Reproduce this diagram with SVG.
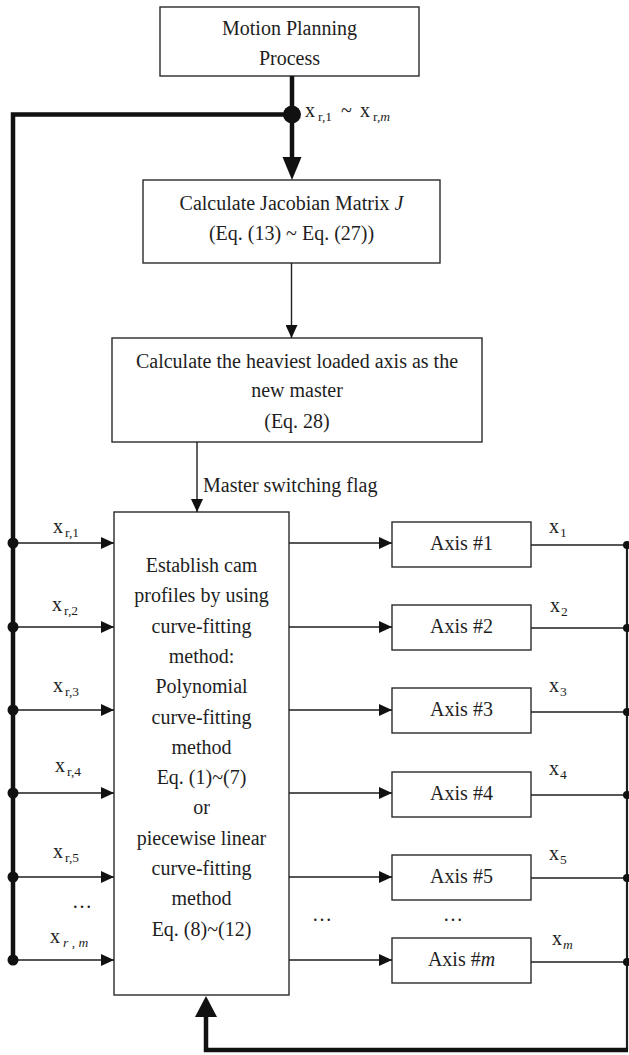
<svg xmlns="http://www.w3.org/2000/svg" width="629" height="1055" viewBox="0 0 629 1055">
<style>
.box{fill:#fff;stroke:#2a2a2a;stroke-width:1.4}
.t{font-family:"Liberation Serif","Times New Roman",serif;font-size:20px;fill:#1e1e1e}
.c{text-anchor:middle}
.s{font-size:13.5px}
.thin{fill:none;stroke:#1e1e1e;stroke-width:1.4}
.thick{fill:none;stroke:#111;stroke-width:4.5}
.mid{fill:none;stroke:#1e1e1e;stroke-width:2.2}
</style>
<defs>
<marker id="ah" markerUnits="userSpaceOnUse" markerWidth="13" markerHeight="12" refX="13" refY="6" orient="auto">
<path d="M0,0 L13,6 L0,12 z" fill="#111"/>
</marker>
</defs>
<g id="n1"><rect class="box" x="160" y="7" width="259" height="69"/>
<text class="t c" x="289.5" y="35">Motion Planning</text>
<text class="t c" x="289.5" y="65">Process</text></g>
<g id="n2"><rect class="box" x="143" y="180" width="297" height="83"/>
<text class="t c" x="291.5" y="210">Calculate Jacobian Matrix <tspan font-style="italic">J</tspan></text>
<text class="t c" x="291.5" y="240">(Eq. (13) ~ Eq. (27))</text></g>
<g id="n3"><rect class="box" x="112" y="338" width="370" height="104"/>
<text class="t c" x="297" y="368">Calculate the heaviest loaded axis as the</text>
<text class="t c" x="297" y="397">new master</text>
<text class="t c" x="297" y="428">(Eq. 28)</text></g>
<g id="n4"><rect class="box" x="114" y="512" width="175" height="483"/>
<text class="t c" x="201.5" y="572">Establish cam</text>
<text class="t c" x="201.5" y="602.3">profiles by using</text>
<text class="t c" x="201.5" y="632.6">curve-fitting</text>
<text class="t c" x="201.5" y="662.9">method:</text>
<text class="t c" x="201.5" y="693.2">Polynomial</text>
<text class="t c" x="201.5" y="723.5">curve-fitting</text>
<text class="t c" x="201.5" y="753.8">method</text>
<text class="t c" x="201.5" y="784.1">Eq. (1)~(7)</text>
<text class="t c" x="201.5" y="814.4">or</text>
<text class="t c" x="201.5" y="844.7">piecewise linear</text>
<text class="t c" x="201.5" y="875">curve-fitting</text>
<text class="t c" x="201.5" y="905.3">method</text>
<text class="t c" x="201.5" y="935.6">Eq. (8)~(12)</text></g>
<g id="a1"><rect class="box" x="392" y="522" width="139" height="45"/><text class="t c" x="461.5" y="550">Axis #1</text></g>
<g id="a2"><rect class="box" x="392" y="605" width="139" height="45"/><text class="t c" x="461.5" y="633">Axis #2</text></g>
<g id="a3"><rect class="box" x="392" y="688" width="139" height="45"/><text class="t c" x="461.5" y="716">Axis #3</text></g>
<g id="a4"><rect class="box" x="392" y="772" width="139" height="45"/><text class="t c" x="461.5" y="800">Axis #4</text></g>
<g id="a5"><rect class="box" x="392" y="855" width="139" height="45"/><text class="t c" x="461.5" y="883">Axis #5</text></g>
<g id="am"><rect class="box" x="392" y="938" width="139" height="45"/><text class="t c" x="461.5" y="966">Axis #<tspan font-style="italic">m</tspan></text></g>
<g id="connectors">
<line class="thick" x1="292" y1="76" x2="292" y2="158"/>
<polygon points="282.5,157 301.5,157 292,180" fill="#111"/>
<polyline class="thick" points="292,114.5 13,114.5 13,960" stroke-linejoin="miter"/>
<circle cx="292" cy="114.5" r="9" fill="#111"/>
<line class="thin" x1="291.5" y1="263" x2="291.5" y2="338" marker-end="url(#ah)"/>
<line class="thin" x1="197" y1="442" x2="197" y2="512" marker-end="url(#ah)"/>
<g id="inputs">
<line class="thin" x1="13" y1="543" x2="114" y2="543" marker-end="url(#ah)"/>
<line class="thin" x1="13" y1="627" x2="114" y2="627" marker-end="url(#ah)"/>
<line class="thin" x1="13" y1="710" x2="114" y2="710" marker-end="url(#ah)"/>
<line class="thin" x1="13" y1="793" x2="114" y2="793" marker-end="url(#ah)"/>
<line class="thin" x1="13" y1="877" x2="114" y2="877" marker-end="url(#ah)"/>
<line class="thin" x1="13" y1="960" x2="114" y2="960" marker-end="url(#ah)"/>
<circle cx="13" cy="543" r="5.5" fill="#111"/>
<circle cx="13" cy="627" r="5.5" fill="#111"/>
<circle cx="13" cy="710" r="5.5" fill="#111"/>
<circle cx="13" cy="793" r="5.5" fill="#111"/>
<circle cx="13" cy="877" r="5.5" fill="#111"/>
<circle cx="13" cy="960" r="5.5" fill="#111"/>
</g>
<g id="axis-in">
<line class="thin" x1="289" y1="543" x2="392" y2="543" marker-end="url(#ah)"/>
<line class="thin" x1="289" y1="627" x2="392" y2="627" marker-end="url(#ah)"/>
<line class="thin" x1="289" y1="710" x2="392" y2="710" marker-end="url(#ah)"/>
<line class="thin" x1="289" y1="793" x2="392" y2="793" marker-end="url(#ah)"/>
<line class="thin" x1="289" y1="877" x2="392" y2="877" marker-end="url(#ah)"/>
<line class="thin" x1="289" y1="960" x2="392" y2="960" marker-end="url(#ah)"/>
</g>
<g id="axis-out">
<line class="thin" x1="531" y1="545" x2="627" y2="545"/>
<line class="thin" x1="531" y1="628" x2="627" y2="628"/>
<line class="thin" x1="531" y1="712" x2="627" y2="712"/>
<line class="thin" x1="531" y1="795" x2="627" y2="795"/>
<line class="thin" x1="531" y1="878" x2="627" y2="878"/>
<line class="thin" x1="531" y1="962" x2="627" y2="962"/>
<line class="mid" x1="627" y1="545" x2="627" y2="1050"/>
<circle cx="627" cy="545" r="4" fill="#111"/>
<circle cx="627" cy="628" r="4" fill="#111"/>
<circle cx="627" cy="712" r="4" fill="#111"/>
<circle cx="627" cy="795" r="4" fill="#111"/>
<circle cx="627" cy="878" r="4" fill="#111"/>
<circle cx="627" cy="962" r="4" fill="#111"/>
</g>
<polyline class="thick" points="628,1050 206,1050 206,1015" stroke-linejoin="miter"/>
<polygon points="195,1017 217,1017 206,996" fill="#111"/>
</g>
<g id="labels">
<text class="t" x="305" y="117">x<tspan class="s" dx="3" dy="4">r,1</tspan><tspan dx="9" dy="-4">~</tspan><tspan dx="8">x</tspan><tspan class="s" dx="3" dy="4">r,</tspan><tspan class="s" font-style="italic">m</tspan></text>
<text class="t" x="203" y="492">Master switching flag</text>
<text class="t" x="53" y="533">x<tspan class="s" dx="2" dy="4">r,1</tspan></text>
<text class="t" x="52" y="611">x<tspan class="s" dx="2" dy="4">r,2</tspan></text>
<text class="t" x="53" y="692">x<tspan class="s" dx="2" dy="4">r,3</tspan></text>
<text class="t" x="55" y="772">x<tspan class="s" dx="2" dy="4">r,4</tspan></text>
<text class="t" x="53" y="858">x<tspan class="s" dx="2" dy="4">r,5</tspan></text>
<text class="t" x="72" y="908">…</text>
<text class="t" x="50" y="943">x<tspan class="s" dx="3" dy="4" font-style="italic">r , m</tspan></text>
<text class="t" x="549" y="533">x<tspan class="s" dx="1" dy="4">1</tspan></text>
<text class="t" x="550" y="612">x<tspan class="s" dx="1" dy="4">2</tspan></text>
<text class="t" x="549" y="692">x<tspan class="s" dx="1" dy="4">3</tspan></text>
<text class="t" x="549" y="775">x<tspan class="s" dx="1" dy="4">4</tspan></text>
<text class="t" x="549" y="860">x<tspan class="s" dx="1" dy="4">5</tspan></text>
<text class="t" x="552" y="945">x<tspan class="s" dx="1" dy="4" font-style="italic">m</tspan></text>
<text class="t" x="312" y="921">…</text>
<text class="t" x="443" y="921">…</text>
</g>
</svg>
